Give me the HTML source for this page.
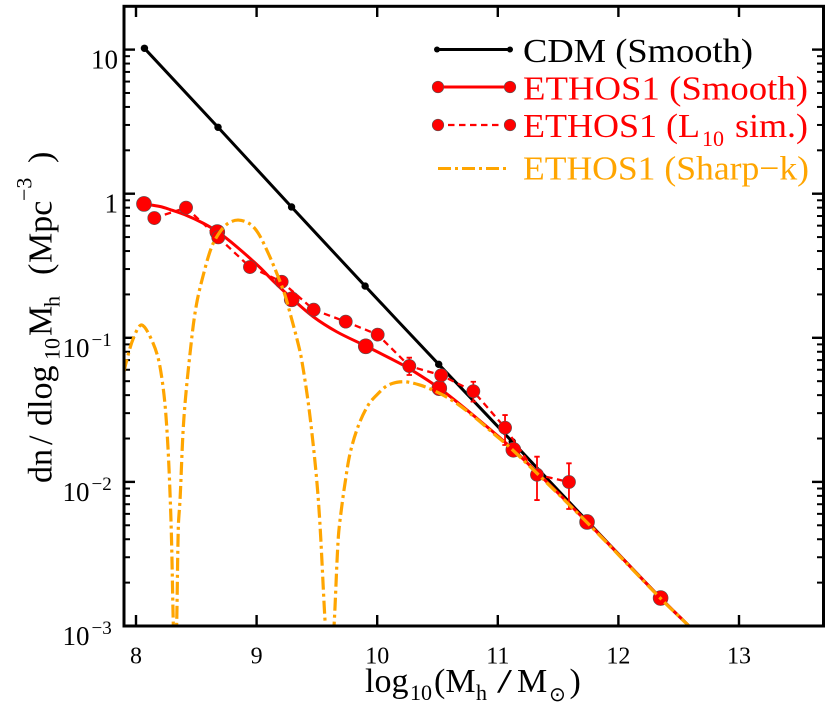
<!DOCTYPE html>
<html>
<head>
<meta charset="utf-8">
<style>
html,body{margin:0;padding:0;background:#fff;}
svg{display:block;font-family:"Liberation Serif","DejaVu Serif",serif;}
</style>
</head>
<body>
<svg id="chart" width="830" height="711" viewBox="0 0 830 711" xmlns="http://www.w3.org/2000/svg">
<defs><clipPath id="plot-clip"><rect x="124" y="6" width="700" height="620"/></clipPath></defs>
<g id="ticks"></g>
<g id="tick-labels"></g>
<g id="series" clip-path="url(#plot-clip)"></g>
<rect x="124" y="6.3" width="699.5" height="619.7" fill="none" stroke="#000" stroke-width="3"/>

<text y="692" font-size="34" fill="#000"><tspan x="365">log</tspan><tspan x="410" y="700" font-size="22">10</tspan><tspan x="434" y="692">(M</tspan><tspan x="476" y="700" font-size="22">h</tspan><tspan x="497" y="692" textLength="15" lengthAdjust="spacingAndGlyphs">/</tspan><tspan x="517" y="692">M</tspan><tspan x="549" y="701" font-size="20" font-family="DejaVu Sans">⊙</tspan><tspan x="569.5" y="692">)</tspan></text>

<text transform="translate(51.7,483) rotate(-90)" font-size="34" fill="#000"><tspan x="0" y="0">dn</tspan><tspan x="38" y="0">/</tspan><tspan x="57" y="0">dlog</tspan><tspan x="123" y="8" font-size="22">10</tspan><tspan x="147" y="0">M</tspan><tspan x="176" y="8" font-size="22">h</tspan><tspan x="208" y="0">(</tspan><tspan x="220" y="0">Mpc</tspan><tspan x="282" y="-20" font-size="22">−3</tspan><tspan x="320" y="0">)</tspan></text>

<g>
  <g>
    <line x1="437" y1="49.5" x2="510" y2="49.5" stroke="#000" stroke-width="3"/>
    <circle cx="437" cy="49.5" r="3" fill="#000"/><circle cx="510" cy="49.5" r="3" fill="#000"/>
    <text x="523" y="62" font-size="34" fill="#000" textLength="230" lengthAdjust="spacingAndGlyphs">CDM (Smooth)</text>
  </g>
  <g>
    <line x1="438" y1="87" x2="510" y2="87" stroke="#f00" stroke-width="3"/>
    <circle cx="438" cy="87" r="5.8" fill="#f00" stroke="#555" stroke-width="0.6"/><circle cx="510" cy="87" r="5.8" fill="#f00" stroke="#555" stroke-width="0.6"/>
    <text x="523" y="99.5" font-size="34" fill="#f00" textLength="285" lengthAdjust="spacingAndGlyphs">ETHOS1 (Smooth)</text>
  </g>
  <g>
    <line x1="448" y1="125" x2="500" y2="125" stroke="#f00" stroke-width="2.3" stroke-dasharray="6.5 4.5"/>
    <circle cx="438" cy="125" r="5.8" fill="#f00" stroke="#555" stroke-width="0.6"/><circle cx="510" cy="125" r="5.8" fill="#f00" stroke="#555" stroke-width="0.6"/>
    <text x="523" y="137" font-size="34" fill="#f00" textLength="177" lengthAdjust="spacingAndGlyphs">ETHOS1 (L</text>
    <text x="702" y="146" font-size="22" fill="#f00">10</text>
    <text x="735" y="137" font-size="34" fill="#f00" textLength="73" lengthAdjust="spacingAndGlyphs">sim.)</text>
  </g>
  <g>
    <line x1="438" y1="168.5" x2="510" y2="168.5" stroke="#ffa500" stroke-width="3" stroke-dasharray="13 4 3 4"/>
    <text x="523" y="179.5" font-size="34" fill="#ffa500" textLength="286" lengthAdjust="spacingAndGlyphs">ETHOS1 (Sharp−k)</text>
  </g>
</g>
</svg>
<script>
// ---- data (x = log10 halo mass, y = log10 dn/dlog10M) ----
const xTicks = [8, 9, 10, 11, 12, 13];
const yDecades = [1, 0, -1, -2, -3];
const yTickBase = ['10', '1', '10', '10', '10'];
const yTickExp = ['', '', '−1', '−2', '−3'];
const minorMultiples = [2, 3, 4, 5, 6, 7, 8, 9];

const cdmMass = [8.07, 8.68, 9.29, 9.90, 10.51, 11.12, 11.74, 12.35];
const cdmLog = [1.009, 0.461, -0.092, -0.641, -1.184, -1.721, -2.271, -2.806];
const cdmTailMass = [12.594];
const cdmTailLog = [-3.007];

const smoothMass = [8.066, 8.674, 9.291, 9.905, 10.515, 11.129, 11.74, 12.35];
const smoothLog = [-0.071, -0.266, -0.733, -1.059, -1.350, -1.777, -2.278, -2.806];
const smoothCurveMass = [8.066, 8.199, 8.282, 8.420, 8.558, 8.680, 8.835, 9.028, 9.138, 9.291, 9.470, 9.664, 9.905, 10.106, 10.258, 10.515, 10.794, 11.129, 11.74, 12.35, 12.594];
const smoothCurveLog = [-0.071, -0.089, -0.110, -0.151, -0.205, -0.266, -0.368, -0.512, -0.606, -0.726, -0.854, -0.958, -1.057, -1.142, -1.210, -1.350, -1.536, -1.777, -2.278, -2.806, -3.007];

const simMass = [8.152, 8.415, 8.682, 8.945, 9.208, 9.473, 9.739, 10.004, 10.266, 10.531, 10.797, 11.06, 11.325, 11.59];
const simLog = [-0.169, -0.097, -0.303, -0.509, -0.611, -0.805, -0.888, -0.978, -1.196, -1.260, -1.371, -1.624, -1.950, -2.001];
const simErrHi = [-0.16, -0.09, -0.29, -0.50, -0.60, -0.79, -0.87, -0.96, -1.138, -1.23, -1.305, -1.536, -1.825, -1.871];
const simErrLo = [-0.18, -0.11, -0.32, -0.52, -0.63, -0.82, -0.91, -1.00, -1.258, -1.30, -1.443, -1.744, -2.126, -2.188];

const sharpMass = [7.90, 7.917, 7.978, 8.047, 8.141, 8.199, 8.249, 8.288, 8.309, 8.322, 8.337, 8.351, 8.365, 8.398, 8.462, 8.503, 8.558, 8.628, 8.697, 8.765, 8.848, 8.945, 9.014, 9.097, 9.167, 9.235, 9.277, 9.333, 9.374, 9.443, 9.512, 9.567, 9.604, 9.642, 9.678, 9.706, 9.733, 9.775, 9.843, 9.926, 9.996, 10.092, 10.216, 10.355, 10.507, 10.659, 10.825, 10.963, 11.124, 11.74, 12.35, 12.594];
const sharpLog = [-1.237, -1.175, -1.003, -0.911, -1.036, -1.201, -1.548, -2.216, -2.979, -3.4, -3.0, -2.311, -2.126, -1.548, -1.003, -0.761, -0.564, -0.368, -0.264, -0.205, -0.183, -0.210, -0.275, -0.414, -0.552, -0.703, -0.828, -1.003, -1.154, -1.548, -2.126, -2.958, -3.44, -3.0, -2.380, -2.172, -2.010, -1.802, -1.612, -1.466, -1.397, -1.328, -1.305, -1.328, -1.381, -1.455, -1.563, -1.663, -1.779, -2.282, -2.809, -3.007];

// ---- axis functions ----
function xScale(m) { return 136 + 120.6 * (m - 8); }
function yScale(l) { return 626 - 144.1 * (l + 3); }

const NS = 'http://www.w3.org/2000/svg';
function mk(tag, parent, attrs) {
  const el = document.createElementNS(NS, tag);
  for (const k in attrs) el.setAttribute(k, attrs[k]);
  parent.appendChild(el);
  return el;
}
function curvePath(ms, ls) {
  const p = ms.map((m, i) => [xScale(m), yScale(ls[i])]);
  const t = [0];
  for (let i = 1; i < p.length; i++) t.push(t[i - 1] + Math.hypot(p[i][0] - p[i - 1][0], p[i][1] - p[i - 1][1]));
  const d = p.map((q, i) => {
    const a = p[Math.max(i - 1, 0)], b = p[Math.min(i + 1, p.length - 1)];
    const dt = t[Math.min(i + 1, p.length - 1)] - t[Math.max(i - 1, 0)];
    return [(b[0] - a[0]) / dt, (b[1] - a[1]) / dt];
  });
  let s = 'M' + p[0][0].toFixed(2) + ' ' + p[0][1].toFixed(2);
  for (let i = 1; i < p.length; i++) {
    const h = (t[i] - t[i - 1]) / 3;
    s += 'C' + (p[i - 1][0] + d[i - 1][0] * h).toFixed(2) + ' ' + (p[i - 1][1] + d[i - 1][1] * h).toFixed(2) + ' ' +
      (p[i][0] - d[i][0] * h).toFixed(2) + ' ' + (p[i][1] - d[i][1] * h).toFixed(2) + ' ' +
      p[i][0].toFixed(2) + ' ' + p[i][1].toFixed(2);
  }
  return s;
}

// ---- ticks ----
const tickG = document.getElementById('ticks');
const labelG = document.getElementById('tick-labels');
xTicks.forEach(v => {
  const x = xScale(v);
  const b = mk('line', tickG, {x1: x, x2: x, y1: 626, y2: 615, stroke: '#000', 'stroke-width': 2.4});
  
  
  const t = mk('line', tickG, {x1: x, x2: x, y1: 6, y2: 17, stroke: '#000', 'stroke-width': 2.4});
  
  
  const lab = mk('text', labelG, {x: x, y: 663.5, 'font-size': 24, 'text-anchor': 'middle', fill: '#000'});
  
  
  lab.textContent = String(v);
});
yDecades.forEach((d, i) => {
  const y = yScale(d);
  [[124, 135], [823, 812]].forEach(e => {
    const l = mk('line', tickG, {x1: e[0], x2: e[1], y1: y, y2: y, stroke: '#000', 'stroke-width': 2.4});
    
    
  });
  const lab = mk('text', labelG, {x: yTickExp[i] ? 62.5 : 118, y: y + 19, 'font-size': 27, fill: '#000', 'text-anchor': yTickExp[i] ? 'start' : 'end'});
  
  
  lab.textContent = yTickBase[i];
  if (yTickExp[i]) {
    const sup = mk('tspan', lab, {'font-size': 19, dy: -11, dx: 2});
    sup.textContent = yTickExp[i];
  }
  minorMultiples.forEach(mul => {
    const ym = yScale(d + Math.log10(mul));
    if (ym < 8) return;
    [[124, 130], [823, 817]].forEach(e => {
      const l = mk('line', tickG, {x1: e[0], x2: e[1], y1: ym, y2: ym, stroke: '#000', 'stroke-width': 2});
      
      
    });
  });
});

// ---- series ----
const seriesG = document.getElementById('series');

const cdmG = mk('g', seriesG, {});


const cdmLine = mk('path', cdmG, {d: curvePath(cdmMass.concat(cdmTailMass), cdmLog.concat(cdmTailLog)), fill: 'none', stroke: '#000', 'stroke-width': 3});


cdmMass.forEach((m, i) => {
  const c = mk('circle', cdmG, {cx: xScale(m), cy: yScale(cdmLog[i]), r: 3.7, fill: '#000'});
  
  
});

const smG = mk('g', seriesG, {});


const smLine = mk('path', smG, {d: curvePath(smoothCurveMass, smoothCurveLog), fill: 'none', stroke: '#f00', 'stroke-width': 3});


smoothMass.forEach((m, i) => {
  const c = mk('circle', smG, {cx: xScale(m), cy: yScale(smoothLog[i]), r: 7.5, fill: '#f00', stroke: '#555', 'stroke-width': 0.6});
  
  
});

const simG = mk('g', seriesG, {});


const simLine = mk('polyline', simG, {points: simMass.map((m, i) => xScale(m) + ',' + yScale(simLog[i])).join(' '), fill: 'none', stroke: '#f00', 'stroke-width': 2.3, 'stroke-dasharray': '6.5 4.5'});


simMass.forEach((m, i) => {
  const x = xScale(m), y1 = yScale(simErrHi[i]), y2 = yScale(simErrLo[i]);
  const e = mk('path', simG, {d: 'M' + x + ' ' + y1 + 'V' + y2 + 'M' + (x - 2.7) + ' ' + y1 + 'H' + (x + 2.7) + 'M' + (x - 2.7) + ' ' + y2 + 'H' + (x + 2.7), fill: 'none', stroke: '#f00', 'stroke-width': 1.8});
  
  
});
simMass.forEach((m, i) => {
  const c = mk('circle', simG, {cx: xScale(m), cy: yScale(simLog[i]), r: 6.6, fill: '#f00', stroke: '#555', 'stroke-width': 0.6});
  
  
});

const sharpLine = mk('path', seriesG, {d: curvePath(sharpMass, sharpLog), fill: 'none', stroke: '#ffa500', 'stroke-width': 3.2, 'stroke-dasharray': '13 4 3 4'});


</script>
</body>
</html>
